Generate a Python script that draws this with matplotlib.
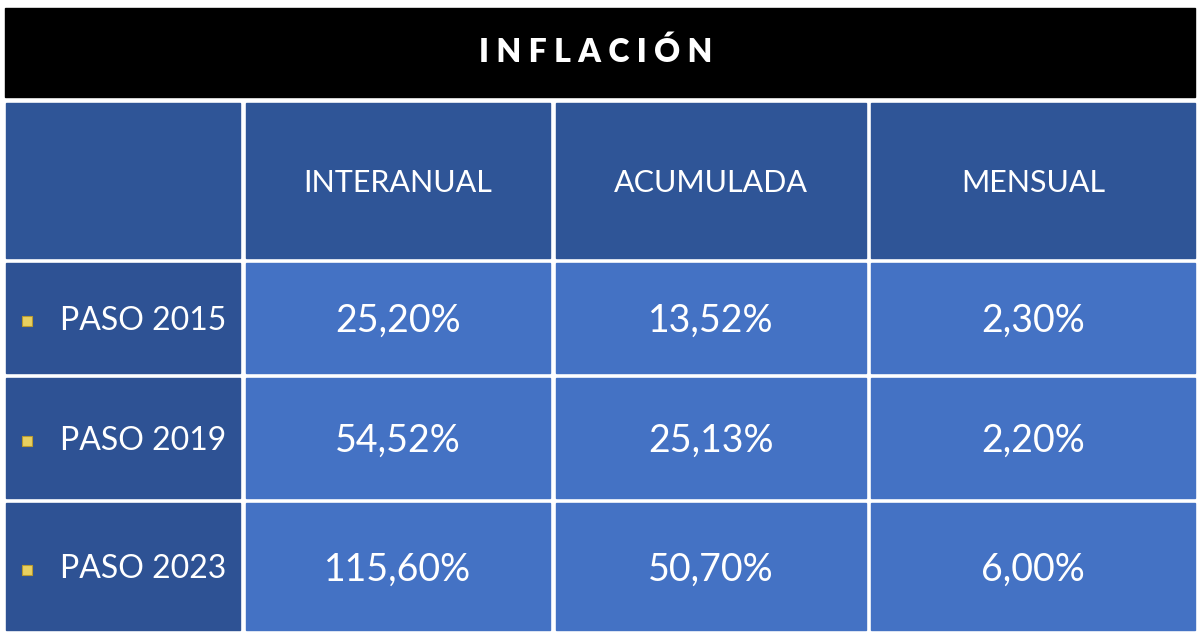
import matplotlib
matplotlib.use("Agg")
import matplotlib.pyplot as plt
from matplotlib.patches import Rectangle

title = "INFLACIÓN"
columns = ["INTERANUAL", "ACUMULADA", "MENSUAL"]
rows = ["PASO 2015", "PASO 2019", "PASO 2023"]
interanual = ["25,20%", "54,52%", "115,60%"]
acumulada = ["13,52%", "25,13%", "50,70%"]
mensual = ["2,30%", "2,20%", "6,00%"]

fig = plt.figure(figsize=(12, 6.39), dpi=100)
ax = fig.add_axes([0, 0, 1, 1])
ax.set_xlim(0, 1200); ax.set_ylim(639, 0); ax.axis("off")
fam = ["Lato", "DejaVu Sans"]

ax.add_patch(Rectangle((5, 8), 1190, 89, color="black"))
ax.text(596, 52, " ".join(title), color="white", fontsize=23,
        fontweight="heavy", ha="center", va="center", family=fam)

xs = [(6, 240), (246, 550), (556, 866), (871, 1195)]
ys = [(103, 258), (263, 373), (378, 498), (503, 630)]
hdr = "#2F5597"
left = "#2E5294"
cell = "#4472C4"
data = [interanual, acumulada, mensual]
for r, (y0, y1) in enumerate(ys):
    for c, (x0, x1) in enumerate(xs):
        if r == 0:
            col = hdr
        elif c == 0:
            col = left
        else:
            col = cell
        ax.add_patch(Rectangle((x0, y0), x1 - x0, y1 - y0, color=col))
        cx, cy = (x0 + x1) / 2, (y0 + y1) / 2
        if r == 0 and c > 0:
            ax.text(cx, cy + 2, columns[c - 1], color="white", fontsize=22, ha="center", va="center", family=fam)
        elif r > 0 and c == 0:
            ax.add_patch(Rectangle((22, cy - 2), 10, 10, facecolor="#E8D060", edgecolor="#B89A30", lw=0.8))
            ax.text(60, cy + 3, rows[r - 1], color="white", fontsize=23, ha="left", va="center", family=fam)
        elif r > 0:
            ax.text(cx, cy + 3, data[c - 1][r - 1], color="white", fontsize=27, ha="center", va="center", family=fam)

fig.savefig("out.png", dpi=100, facecolor="white")
